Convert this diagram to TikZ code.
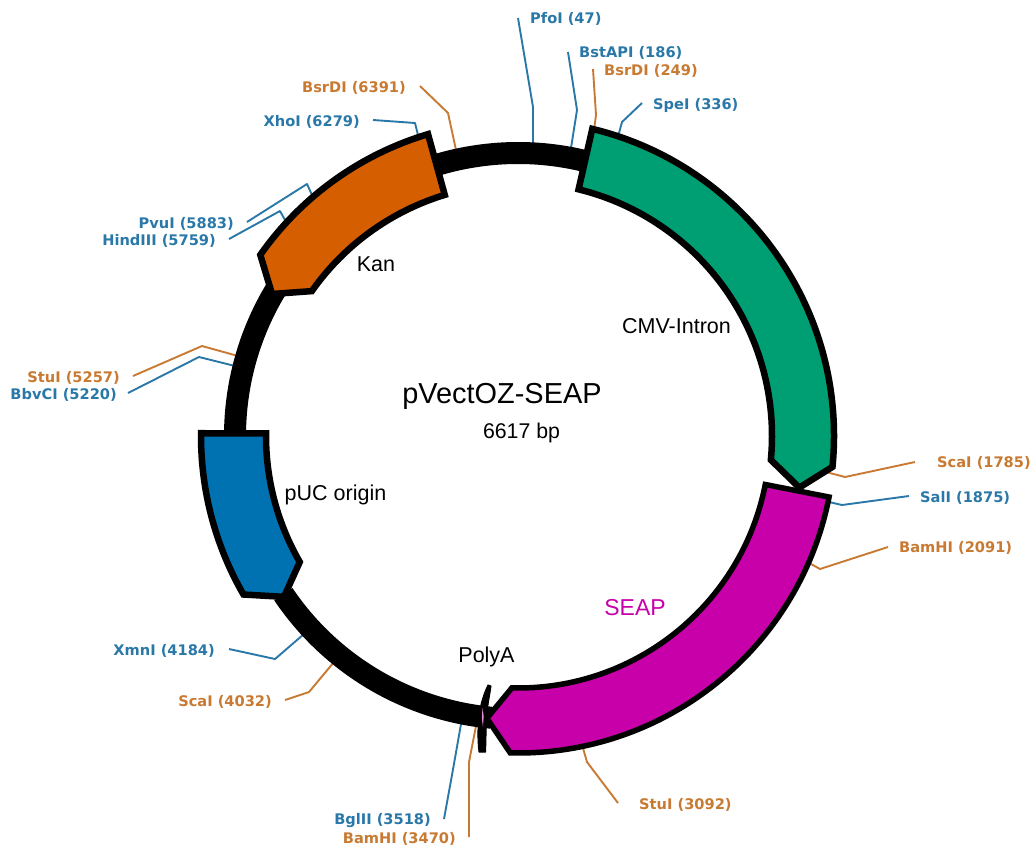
\documentclass[tikz,border=0pt]{standalone}
\usepackage{fontspec}
\setmainfont{Liberation Sans}
\newfontfamily\sitefont{DejaVu Sans}
\definecolor{sitecyan}{HTML}{2A78A8}
\definecolor{siteamber}{HTML}{C87A32}
\definecolor{fgreen}{HTML}{009E73}
\definecolor{forange}{HTML}{D55E00}
\definecolor{fblue}{HTML}{0072B2}
\definecolor{fmagenta}{HTML}{C800AA}
\tikzset{
  sitelabel/.style={inner sep=0pt,font=\sitefont\bfseries\fontsize{14.6}{15}\selectfont},
  siteline/.style={line width=1.9pt,line join=round},
  feature/.style={draw=black,line width=6.5pt,line join=miter,miter limit=4},
  backbone/.style={draw=black,line width=22pt},
  genelabel/.style={inner sep=0pt,font=\fontsize{21.5}{23}\selectfont}
}
\newcommand\site[8]{%
  \node[sitelabel,text=#2,anchor=#4] (#1) at (#5) {#3};
  \coordinate (#1a) at (#6);
  \coordinate (#1b) at (#7);
  \coordinate (#1c) at (#8);
  \draw[siteline,draw=#2] (#1a) -- (#1b) -- (#1c);
}
\begin{document}
\begin{tikzpicture}[x=1pt,y=-1pt]
\useasboundingbox (0,0) rectangle (1032,846);
% restriction sites
\site{pfo}{sitecyan}{PfoI (47)}{west}{530,19}{518,18}{533,107}{533,145}
\site{bst}{sitecyan}{BstAPI (186)}{west}{579,53}{568,52}{577,110}{571,148}
\site{bsra}{siteamber}{BsrDI (249)}{west}{604,71}{593,69}{596,115}{594,130}
\site{spe}{sitecyan}{SpeI (336)}{west}{653,105}{642,103}{622,122}{619,133}
\site{bsrb}{siteamber}{BsrDI (6391)}{east}{406,88}{420,86}{448,113}{456,150}
\site{xho}{sitecyan}{XhoI (6279)}{east}{360,122}{373,120}{415,123}{418,135}
\site{pvu}{sitecyan}{PvuI (5883)}{east}{234,224}{247,222}{307,184}{312,195}
\site{hind}{sitecyan}{HindIII (5759)}{east}{216,241}{229,239}{280,211}{285,220}
\site{stua}{siteamber}{StuI (5257)}{east}{120,378}{133,376}{202,346}{238,356}
\site{bbv}{sitecyan}{BbvCI (5220)}{east}{117,395}{128,393}{199,357}{235,366}
\site{xmn}{sitecyan}{XmnI (4184)}{east}{215,651}{229,649}{275,659}{304,634}
\site{scaa}{siteamber}{ScaI (4032)}{east}{272,702}{285,700}{309,692}{334,662}
\site{bgl}{sitecyan}{BglII (3518)}{east}{431,821}{444,819}{452,775}{461,724}
\site{bama}{siteamber}{BamHI (3470)}{east}{456,839}{469,837}{469,762}{476,726}
\site{stub}{siteamber}{StuI (3092)}{west}{639,805}{618,803}{587,762}{583,748}
\site{scab}{siteamber}{ScaI (1785)}{west}{937,463}{915,462}{845,477}{826,472}
\site{sal}{sitecyan}{SalI (1875)}{west}{920,498}{909,496}{842,505}{829,502}
\site{bamb}{siteamber}{BamHI (2091)}{west}{899,548}{888,547}{820,569}{811,564}
% plasmid backbone
\begin{scope}[shift={(518,436)},y=1pt]
\draw[backbone] (214:283) arc[start angle=214,end angle=264.5,radius=283pt];
\draw[backbone] (179:283) arc[start angle=179,end angle=148,radius=283pt];
\draw[backbone] (107:283) arc[start angle=107,end angle=76,radius=283pt];
% features
\draw[feature,fill=fgreen] (76.4:316) arc[start angle=76.4,end angle=-5.6,radius=316pt]
  -- (-10.4:286) -- (-5.4:254) arc[start angle=-5.4,end angle=76.2,radius=254pt] -- cycle;
\draw[feature,fill=fmagenta,line width=5.5pt] (-11.1:317) arc[start angle=-11.1,end angle=-91.4,radius=317pt]
  -- (-96.3:284) -- (-91.4:252) arc[start angle=-91.4,end angle=-11.1,radius=252pt] -- cycle;
\draw[feature,fill=forange] (106.6:315) arc[start angle=106.6,end angle=144.9,radius=315pt]
  -- (150:284) -- (144.9:252) arc[start angle=144.9,end angle=106.9,radius=252pt] -- cycle;
\draw[feature,fill=fblue] (179.5:317) arc[start angle=179.5,end angle=210,radius=317pt]
  -- (214.5:284) -- (210:252) arc[start angle=210,end angle=179.4,radius=252pt] -- cycle;
\end{scope}
% PolyA sliver
\fill[black,draw=black,line width=1pt,line join=round] (488,685) -- (491,686)
  .. controls (489,700) and (487,708) .. (486.5,718)
  .. controls (486,730) and (486,742) .. (485.5,752) -- (479,752)
  .. controls (477.5,740) and (477.5,725) .. (479.5,712)
  .. controls (481,703) and (484,693) .. (488,685) -- cycle;
\fill[fmagenta!45] (482.5,708) -- (483.7,716) -- (483,727) -- (481.8,718) -- cycle;
% labels
\node[inner sep=0pt,font=\fontsize{28.9}{30}\selectfont] (title) at (502,396) {pVectOZ-SEAP};
\node[inner sep=0pt,font=\fontsize{21.3}{23}\selectfont] (size) at (521.5,433) {6617 bp};
\node[genelabel] (kan) at (376,264) {Kan};
\node[genelabel] (cmv) at (676.5,326) {CMV-Intron};
\node[genelabel] (puc) at (335.5,495) {pUC origin};
\node[genelabel] (polya) at (486.5,657) {PolyA};
\node[genelabel,text=fmagenta,font=\fontsize{23}{24}\selectfont] (seap) at (635,608) {SEAP};
\end{tikzpicture}
\end{document}
